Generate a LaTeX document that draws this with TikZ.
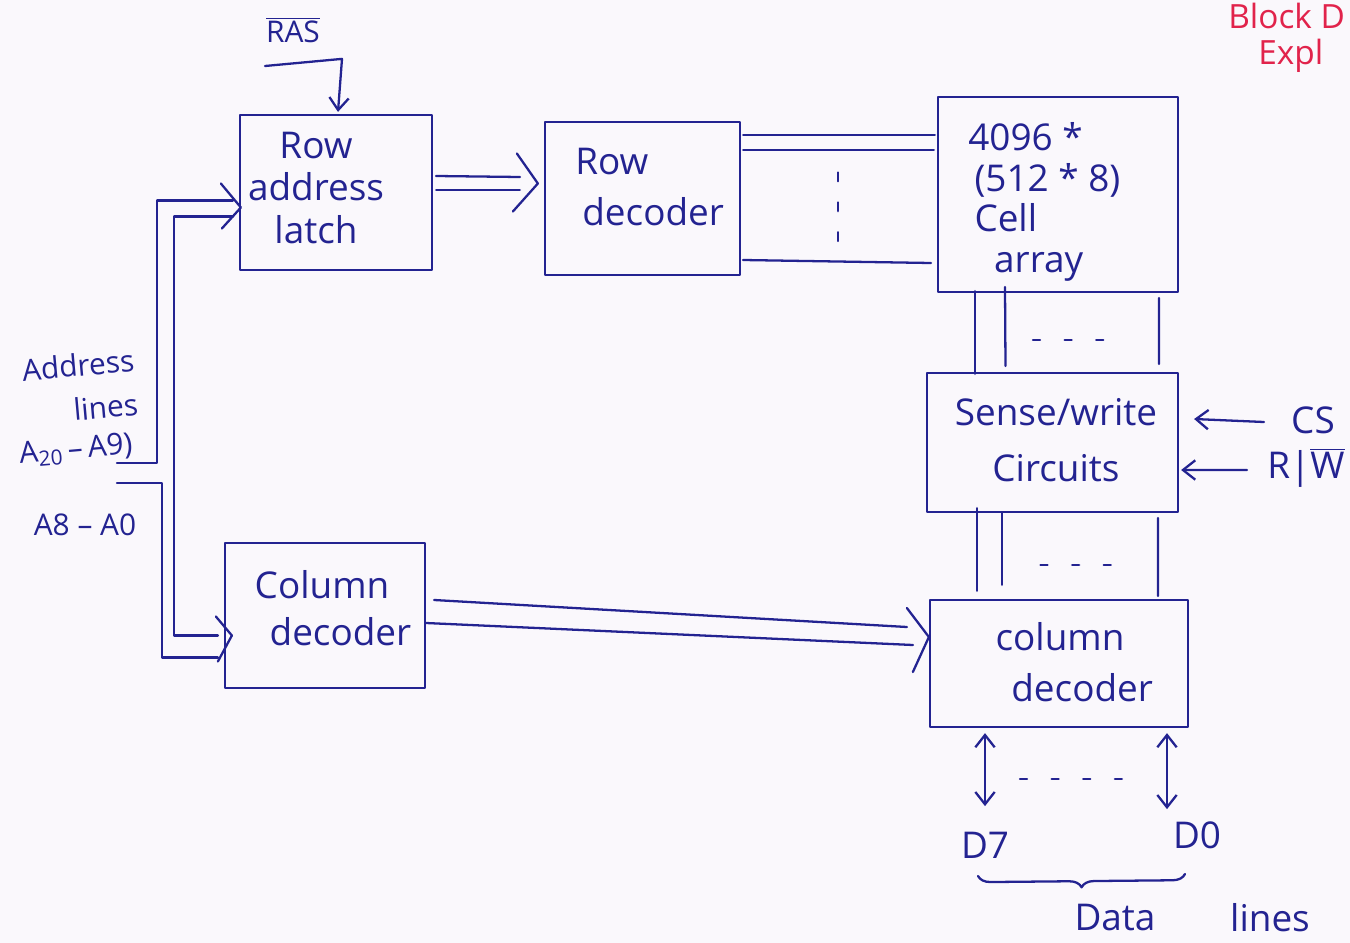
\documentclass[tikz,border=0pt]{standalone}
\usepackage{fontspec}
\setmainfont{Open Sans}
\usetikzlibrary{calc,arrows.meta,decorations.pathreplacing}
\definecolor{ink}{RGB}{35,35,145}
\definecolor{redink}{RGB}{225,35,75}
\definecolor{paper}{RGB}{250,248,252}

\begin{document}
\begin{tikzpicture}[x=0.02cm,y=-0.02cm,
  wire/.style={draw=ink, line width=1.3pt, line cap=round, line join=round},
  box/.style={wire, rectangle, inner sep=0pt},
  lbl/.style={text=ink, inner sep=0pt, font=\fontsize{21}{24}\selectfont},
  small/.style={text=ink, inner sep=0pt, font=\fontsize{17}{20}\selectfont},
  arr/.style={-{Straight Barb[length=7pt,width=11pt]}},
  arrboth/.style={{Straight Barb[length=7pt,width=11pt]}-{Straight Barb[length=7pt,width=11pt]}},
  dots/.style={wire, dash pattern=on 4pt off 14pt},
]
% page
\fill[paper] (0,0) rectangle (1350,943);
\useasboundingbox (0,0) rectangle (1350,943);
\clip (0,0) rectangle (1350,943);

% blocks
\node[box, minimum width=3.84cm, minimum height=3.10cm] (ral)  at (336,192.5) {};
\node[box, minimum width=3.90cm, minimum height=3.06cm] (rdec) at (642.5,198.5) {};
\node[box, minimum width=4.80cm, minimum height=3.90cm] (cell) at (1058,194.5) {};
\node[box, minimum width=5.02cm, minimum height=2.78cm] (sw)   at (1052.5,442.5) {};
\node[box, minimum width=4.00cm, minimum height=2.90cm] (cdl)  at (325,615.5) {};
\node[box, minimum width=5.16cm, minimum height=2.54cm] (cdr)  at (1059,663.5) {};

% block texts
\node[lbl, align=center] (ralt) at (316,188) {Row\\address\\latch};
\node[lbl, align=left, anchor=west, font=\fontsize{21}{28.5}\selectfont] (rdect) at (575,187) {Row\\\hspace*{4pt}decoder};
\node[lbl, align=left, anchor=west, font=\fontsize{21}{23}\selectfont] (cellt) at (968,202) {4096 *\\\,(512 * 8)\\\,Cell\\\hspace*{0.7em}array};
\node[lbl, align=center, font=\fontsize{21}{32}\selectfont] (swt) at (1056,440) {Sense/write\\Circuits};
\node[lbl, align=center, font=\fontsize{21}{27}\selectfont] (cdlt) at (322,608) {Column\\\hspace*{1em}decoder};
\node[lbl, align=center, font=\fontsize{21}{29}\selectfont] (cdrt) at (1060,662) {column\\\hspace*{1.2em}decoder};

% RAS strobe
\node[small] (ras) at (293,30) {$\overline{\mbox{RAS}}$};
\coordinate (rasin) at (265,66);
\draw[wire, arr] (rasin) -- ($(ral.north)+(6,-55)$) -- ($(ral.north)+(2,-2)$);

% address lines
\node[small, align=right, rotate=5, font=\fontsize{17}{25}\selectfont] (addr) at (80,387) {Address\\lines};
\node[small, rotate=5] (ahi) at (76,450) {A\textsubscript{20}\,–\,A9)};
\node[small] (alo) at (85,525) {A8 – A0};
\coordinate (ahiend) at (117,463);
\coordinate (aloend) at (117,483);
\draw[wire] (ahiend) -- ++(40,0) |- ($(ral.west)+(-6,8)$);
\draw[wire] ($(ral.west)+(-6,24)$) -| ($(cdl.west)+(-50,20)$) -- ($(cdl.west)+(-6,20)$);
\draw[wire] (aloend) -- ++(45,0) |- ($(cdl.west)+(-6,42)$);
\draw[wire] ($(ral.west)+(-18,-9)$) -- ($(ral.west)+(2,15)$) -- ($(ral.west)+(-17,36)$);
\draw[wire] ($(cdl.west)+(-8,1)$) -- ($(cdl.west)+(8,20)$) -- ($(cdl.west)+(-6,46)$);

% row address latch -> row decoder
\draw[wire] ($(ral.east)+(3,-16.5)$) -- ($(rdec.west)+(-24,-21.5)$);
\draw[wire] ($(ral.east)+(3,-2.5)$) -- ($(rdec.west)+(-24,-8.5)$);
\draw[wire] ($(rdec.west)+(-27,-45)$) -- ($(rdec.west)+(-6,-15)$) -- ($(rdec.west)+(-31,13)$);

% row decoder -> cell array
\draw[wire] ($(rdec.east)+(2,-63.5)$) -- ($(cell.west)+(-2,-59.5)$);
\draw[wire] ($(rdec.east)+(2,-48.5)$) -- ($(cell.west)+(-3,-44.5)$);
\draw[wire] ($(rdec.east)+(2,61.5)$) -- ($(cell.west)+(-6,68.5)$);
\draw[wire, dash pattern=on 5pt off 12pt] ($(rdec.east)+(97,-26)$) -- ($(rdec.east)+(97,56)$);

% cell array -> sense/write
\draw[wire] ($(cell.south)+(-83,-2)$) -- ($(sw.north)+(-77.5,2)$);
\draw[wire] ($(cell.south)+(-53,-6)$) -- ($(sw.north)+(-47,-6)$);
\draw[wire] ($(cell.south)+(101,5)$) -- ($(sw.north)+(106.5,-8)$);
\draw[dots] ($(cell.south)+(-25,47)$) -- ($(cell.south)+(62,47)$);

% sense/write -> column decoder
\draw[wire] ($(sw.south)+(-75.5,-5)$) -- ($(cdr.north)+(-82,-8)$);
\draw[wire] ($(sw.south)+(-50.5,0)$) -- ($(cdr.north)+(-57,-14)$);
\draw[wire] ($(sw.south)+(105.5,5)$) -- ($(cdr.north)+(99,-3)$);
\draw[dots] ($(sw.south)+(-12,52)$) -- ($(sw.south)+(80,52)$);

% column decoder -> column decoder
\draw[wire] ($(cdl.east)+(8,-15.5)$) -- ($(cdr.west)+(-22,-36.5)$);
\draw[wire] ($(cdl.east)+(0,7.5)$) -- ($(cdr.west)+(-16,-18.5)$);
\draw[wire] ($(cdr.west)+(-22,-55.5)$) -- ($(cdr.west)+(0,-26.5)$) -- ($(cdr.west)+(-16,8.5)$);

% control inputs
\node[lbl] (cs) at (1313,420) {CS};
\node[lbl] (rw) at (1306,468) {R|$\overline{\mbox{W}}$};
\draw[wire, arr] ($(cs.west)+(-27,2)$) -- ($(sw.east)+(15,-23.5)$);
\draw[wire, arr] ($(rw.west)+(-20,2)$) -- ($(sw.east)+(2,27.5)$);

% data lines
\draw[wire, arrboth] ($(cdr.south)+(-74,5)$) -- ($(cdr.south)+(-74,78)$);
\draw[wire, arrboth] ($(cdr.south)+(108,5)$) -- ($(cdr.south)+(108,81)$);
\draw[dots] ($(cdr.south)+(-39,51)$) -- ($(cdr.south)+(71,51)$);
\node[lbl] (d7) at (985,845) {D7};
\node[lbl] (d0) at (1197,835) {D0};
\coordinate (brl) at (978,876);
\coordinate (brr) at (1185,874);
\draw[wire, decorate, decoration={brace, mirror, amplitude=7pt}] (brl) -- (brr);
\node[lbl] (datat) at (1115,918) {Data};
\node[lbl] (linest) at (1270,918) {lines};

% heading
\node[text=redink, inner sep=0pt, anchor=west, font=\fontsize{19}{24}\selectfont] (blk) at (1228,16) {Block D};
\node[text=redink, inner sep=0pt, anchor=west, font=\fontsize{19}{24}\selectfont] (expl) at (1258,56) {Expl};
\end{tikzpicture}
\end{document}
